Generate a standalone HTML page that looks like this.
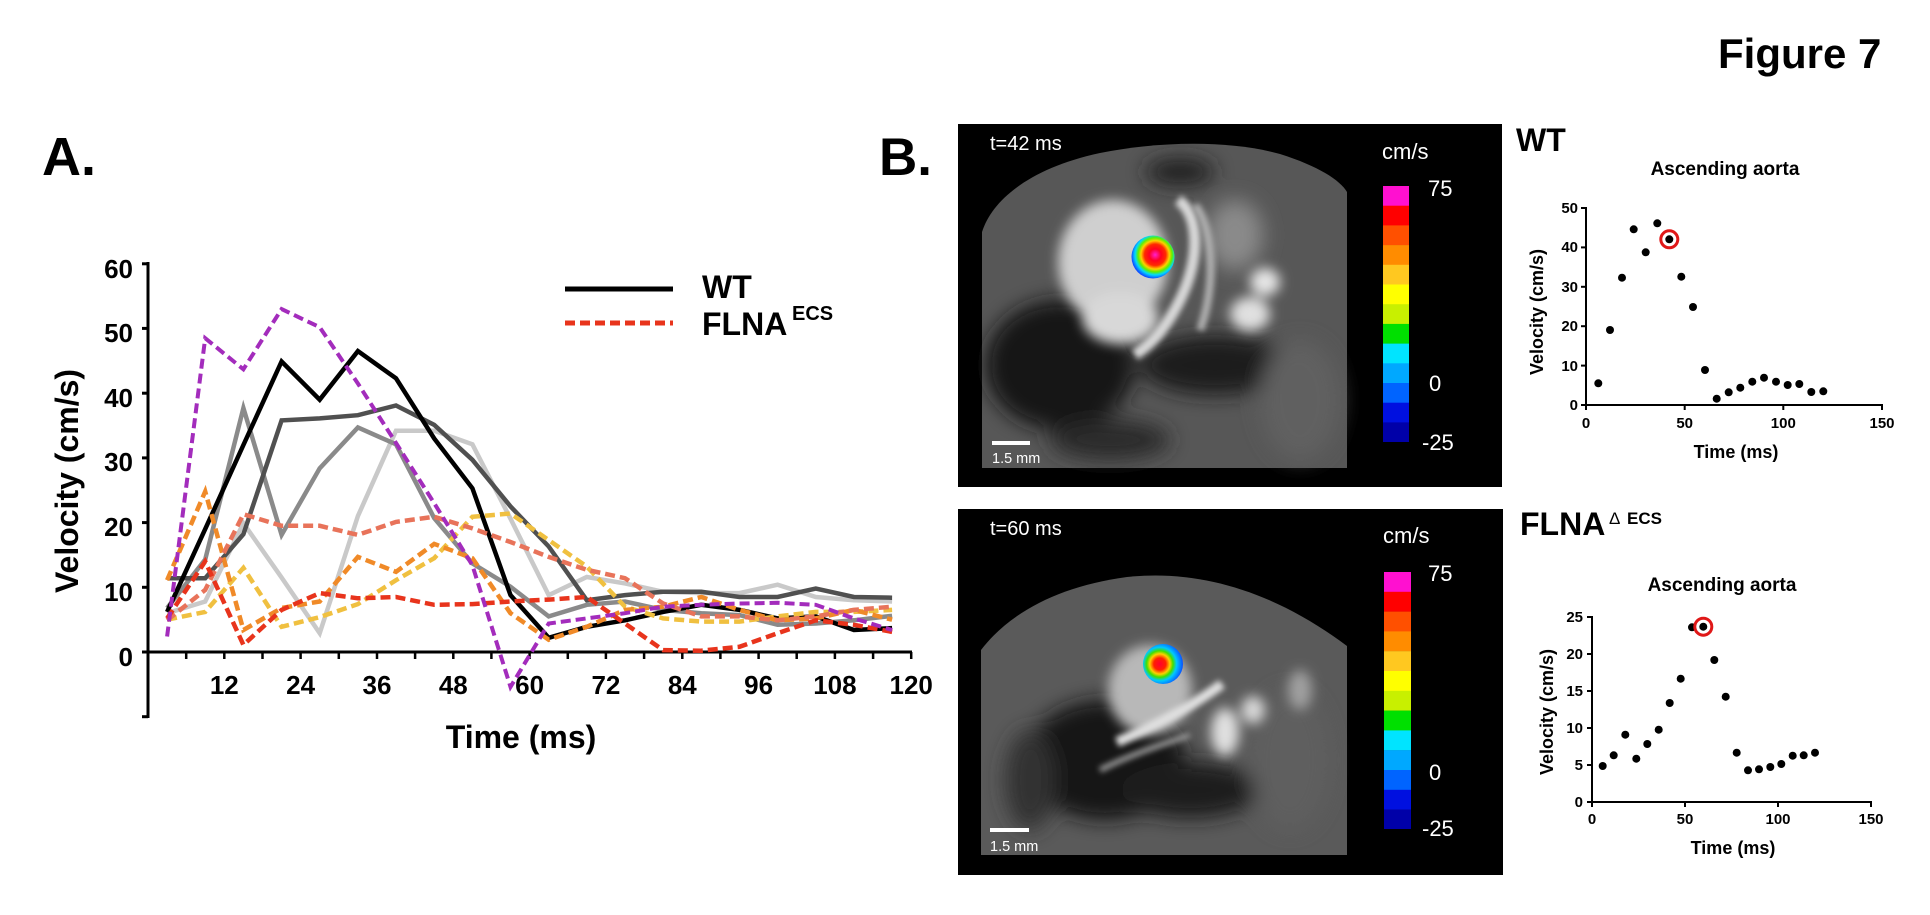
<!DOCTYPE html>
<html><head><meta charset="utf-8"><style>
html,body{margin:0;padding:0;background:#fff;}
svg{display:block;}
text{font-family:"Liberation Sans",Arial,sans-serif;}
</style></head><body>
<svg width="1930" height="915" viewBox="0 0 1930 915" xmlns="http://www.w3.org/2000/svg">
<defs>
<filter id="b6" x="-50%" y="-50%" width="200%" height="200%"><feGaussianBlur stdDeviation="6"/></filter>
<filter id="b3" x="-50%" y="-50%" width="200%" height="200%"><feGaussianBlur stdDeviation="3"/></filter>
<filter id="b10" x="-50%" y="-50%" width="200%" height="200%"><feGaussianBlur stdDeviation="10"/></filter>
<radialGradient id="flow1" cx="0.55" cy="0.45" r="0.55">
<stop offset="0" stop-color="#ff20d0"/><stop offset="0.25" stop-color="#ff0020"/><stop offset="0.45" stop-color="#ff2a00"/><stop offset="0.6" stop-color="#ffd000"/><stop offset="0.72" stop-color="#60f000"/><stop offset="0.85" stop-color="#00d8ff"/><stop offset="1" stop-color="#1050ff"/>
</radialGradient>
<radialGradient id="flow2" cx="0.42" cy="0.5" r="0.6">
<stop offset="0" stop-color="#ff0030"/><stop offset="0.25" stop-color="#ff2000"/><stop offset="0.42" stop-color="#ffd000"/><stop offset="0.55" stop-color="#40e000"/><stop offset="0.7" stop-color="#00c8ff"/><stop offset="1" stop-color="#0a40ff"/>
</radialGradient>
</defs>

<!-- Titles -->
<text x="1718" y="68" font-size="42" font-weight="bold">Figure 7</text>
<text x="42" y="175" font-size="54" font-weight="bold">A.</text>
<text x="879" y="175" font-size="53" font-weight="bold">B.</text>

<!-- Panel A axes -->
<g stroke="#000" stroke-width="3" fill="none">
<line x1="148" y1="262" x2="148" y2="718"/>
<line x1="142" y1="652" x2="912" y2="652"/>
<line x1="142" y1="263.8" x2="148" y2="263.8"/>
<line x1="142" y1="328.4" x2="148" y2="328.4"/>
<line x1="142" y1="393.2" x2="148" y2="393.2"/>
<line x1="142" y1="457.9" x2="148" y2="457.9"/>
<line x1="142" y1="522.6" x2="148" y2="522.6"/>
<line x1="142" y1="587.3" x2="148" y2="587.3"/>
<line x1="142" y1="716.7" x2="148" y2="716.7"/>
</g>
<g stroke="#000" stroke-width="2.5">
<line x1="186.2" y1="652" x2="186.2" y2="659"/><line x1="224.3" y1="652" x2="224.3" y2="659"/>
<line x1="262.5" y1="652" x2="262.5" y2="659"/><line x1="300.6" y1="652" x2="300.6" y2="659"/>
<line x1="338.8" y1="652" x2="338.8" y2="659"/><line x1="377" y1="652" x2="377" y2="659"/>
<line x1="415.1" y1="652" x2="415.1" y2="659"/><line x1="453.3" y1="652" x2="453.3" y2="659"/>
<line x1="491.4" y1="652" x2="491.4" y2="659"/><line x1="529.6" y1="652" x2="529.6" y2="659"/>
<line x1="567.8" y1="652" x2="567.8" y2="659"/><line x1="605.9" y1="652" x2="605.9" y2="659"/>
<line x1="644.1" y1="652" x2="644.1" y2="659"/><line x1="682.3" y1="652" x2="682.3" y2="659"/>
<line x1="720.4" y1="652" x2="720.4" y2="659"/><line x1="758.6" y1="652" x2="758.6" y2="659"/>
<line x1="796.7" y1="652" x2="796.7" y2="659"/><line x1="834.9" y1="652" x2="834.9" y2="659"/>
<line x1="873.1" y1="652" x2="873.1" y2="659"/><line x1="911.2" y1="652" x2="911.2" y2="659"/>
</g>
<g font-size="26" font-weight="bold" text-anchor="end">
<text x="133" y="278">60</text><text x="133" y="342">50</text><text x="133" y="407">40</text>
<text x="133" y="471">30</text><text x="133" y="536">20</text><text x="133" y="601">10</text>
<text x="133" y="666">0</text>
</g>
<g font-size="26" font-weight="bold" text-anchor="middle">
<text x="224.3" y="694">12</text><text x="300.6" y="694">24</text><text x="377" y="694">36</text>
<text x="453.3" y="694">48</text><text x="529.6" y="694">60</text><text x="605.9" y="694">72</text>
<text x="682.3" y="694">84</text><text x="758.6" y="694">96</text><text x="834.9" y="694">108</text>
<text x="911.2" y="694">120</text>
</g>
<text x="521" y="748" font-size="32" font-weight="bold" text-anchor="middle">Time (ms)</text>
<text transform="translate(78,481) rotate(-90)" font-size="32" font-weight="bold" text-anchor="middle">Velocity (cm/s)</text>

<!-- Legend -->
<line x1="565" y1="289" x2="673" y2="289" stroke="#000" stroke-width="5"/>
<line x1="565" y1="323" x2="673" y2="323" stroke="#e8341c" stroke-width="5" stroke-dasharray="10 5"/>
<text x="702" y="298" font-size="32" font-weight="bold">WT</text>
<text x="702" y="335" font-size="32" font-weight="bold">FLNA</text>
<text x="792" y="320" font-size="20" font-weight="bold">ECS</text>

<!-- Series -->
<g fill="none" stroke-width="4.5" stroke-linejoin="miter">
<polyline stroke="#c9c9c9" points="167.1,613.2 205.2,601.5 243.4,523.2 281.6,577.6 319.7,633.2 357.9,516.1 396,430.7 434.2,430.7 472.4,444.3 510.5,518.7 548.7,595.1 586.8,577 625,583.4 663.1,591.8 701.3,593.1 739.5,593.1 777.6,584.7 815.8,597 853.9,600.2 892.1,601.5"/>
<polyline stroke="#8a8a8a" points="167.1,608 205.2,559.5 243.4,408.1 281.6,534.9 319.7,468.3 357.9,427.5 396,444.3 434.2,518.1 472.4,563.4 510.5,586.7 548.7,616.4 586.8,604.8 625,601.5 663.1,609.9 701.3,613.2 739.5,615.1 777.6,624.8 815.8,623.5 853.9,620.3 892.1,615.8"/>
<polyline stroke="#505050" points="167.1,578.2 205.2,578.2 243.4,534.2 281.6,420.4 319.7,418.4 357.9,415.2 396,405.5 434.2,424.9 472.4,459.8 510.5,506.4 548.7,546.5 586.8,600.2 625,595.1 663.1,591.8 701.3,591.8 739.5,597 777.6,597 815.8,588.6 853.9,597 892.1,597.7"/>
<polyline stroke="#000" points="167.1,611.9 205.2,529.1 243.4,445 281.6,361.5 319.7,399.7 357.9,351.1 396,378.3 434.2,438.5 472.4,488.3 510.5,595.1 548.7,637.8 586.8,626.8 625,620.3 663.1,611.9 701.3,604.8 739.5,609.9 777.6,618.4 815.8,616.4 853.9,630 892.1,628.1"/>
</g>
<g fill="none" stroke-width="4.5" stroke-dasharray="10 5">
<polyline stroke="#f0c040" points="167.1,619.7 205.2,611.9 243.4,567.9 281.6,626.8 319.7,617.1 357.9,604.1 396,580.2 434.2,558.2 472.4,516.8 510.5,513.5 548.7,540.1 586.8,566.6 625,606.7 663.1,618.4 701.3,621.6 739.5,621.6 777.6,616.4 815.8,611.9 853.9,611.9 892.1,609.9"/>
<polyline stroke="#f08a28" points="167.1,580.2 205.2,491.5 243.4,630 281.6,608 319.7,601.5 357.9,556.9 396,571.8 434.2,543.9 472.4,558.2 510.5,613.2 548.7,639.7 586.8,626.8 625,609.9 663.1,606.7 701.3,597 739.5,609.9 777.6,620.3 815.8,618.4 853.9,609.9 892.1,619.7"/>
<polyline stroke="#e8735a" points="167.1,620.3 205.2,589.9 243.4,514.2 281.6,525.8 319.7,525.8 357.9,534.9 396,521.9 434.2,516.8 472.4,528.4 510.5,542 548.7,556.9 586.8,569.8 625,578.2 663.1,603.5 701.3,616.4 739.5,616.4 777.6,620.3 815.8,616.4 853.9,609.9 892.1,606.7"/>
<polyline stroke="#e8341c" points="167.1,618.4 205.2,561.4 243.4,644.9 281.6,609.9 319.7,593.1 357.9,598.3 396,597 434.2,604.8 472.4,604.1 510.5,601.5 548.7,599.6 586.8,597 625,623.5 663.1,650.1 701.3,650.7 739.5,646.8 777.6,633.2 815.8,620.3 853.9,624.8 892.1,631.9"/>
<polyline stroke="#a32cbc" stroke-width="4" points="167.1,636.5 205.2,338.2 243.4,369.3 281.6,309.1 319.7,327.2 357.9,383.5 396,443 434.2,503.2 472.4,565.3 510.5,686.9 548.7,623.5 586.8,618.4 625,613.2 663.1,606.7 701.3,604.8 739.5,603.5 777.6,602.8 815.8,604.8 853.9,618.4 892.1,630"/>
</g>

<!-- MRI top -->
<rect x="958" y="124" width="544" height="363" fill="#000"/>
<g>
<path d="M982,468 L982,232 C992,200 1030,168 1100,153 C1160,141 1230,140 1280,154 C1318,166 1340,180 1347,192 L1347,468 Z" fill="#575757"/>
<g filter="url(#b10)">
<ellipse cx="1060" cy="365" rx="75" ry="65" fill="#151515"/>
<ellipse cx="1215" cy="365" rx="75" ry="30" fill="#1e1e1e"/>
<ellipse cx="1180" cy="172" rx="35" ry="14" fill="#202020"/>
<ellipse cx="1110" cy="440" rx="60" ry="20" fill="#2a2a2a"/>
<ellipse cx="1300" cy="400" rx="40" ry="60" fill="#606060"/>
<ellipse cx="1235" cy="235" rx="28" ry="35" fill="#8a8a8a"/>
</g>
<g filter="url(#b6)">
<ellipse cx="1113" cy="262" rx="55" ry="62" fill="#cfcfcf"/>
<ellipse cx="1120" cy="318" rx="38" ry="26" fill="#d8d8d8"/>
<ellipse cx="1265" cy="282" rx="15" ry="14" fill="#e6e6e6"/>
<ellipse cx="1250" cy="314" rx="20" ry="17" fill="#e0e0e0"/>
</g>
<path d="M1178,200 C1200,215 1200,260 1180,300 C1165,330 1150,345 1135,355" stroke="#d8d8d8" stroke-width="11" fill="none" filter="url(#b3)"/>
<path d="M1195,205 C1215,230 1215,290 1200,330" stroke="#b0b0b0" stroke-width="8" fill="none" filter="url(#b3)"/>
<circle cx="1153" cy="257" r="21.5" fill="url(#flow1)"/>
</g>
<text x="990" y="150" font-size="20" fill="#fff">t=42 ms</text>
<text x="1382" y="159" font-size="22" fill="#fff">cm/s</text>
<g>
<rect x="1383" y="186" width="26" height="20" fill="#ff10d0"/>
<rect x="1383" y="205.7" width="26" height="20" fill="#ff0000"/>
<rect x="1383" y="225.4" width="26" height="20" fill="#ff5000"/>
<rect x="1383" y="245.1" width="26" height="20" fill="#ff8c00"/>
<rect x="1383" y="264.8" width="26" height="20" fill="#ffc820"/>
<rect x="1383" y="284.5" width="26" height="20" fill="#ffff00"/>
<rect x="1383" y="304.2" width="26" height="20" fill="#c8f000"/>
<rect x="1383" y="323.9" width="26" height="20" fill="#00e000"/>
<rect x="1383" y="343.6" width="26" height="20" fill="#00e4ff"/>
<rect x="1383" y="363.3" width="26" height="20" fill="#00a8ff"/>
<rect x="1383" y="383" width="26" height="20" fill="#0064ff"/>
<rect x="1383" y="402.7" width="26" height="20" fill="#0010e0"/>
<rect x="1383" y="422.4" width="26" height="19.6" fill="#0000a8"/>
</g>
<text x="1428" y="196" font-size="22" fill="#fff">75</text>
<text x="1429" y="391" font-size="22" fill="#fff">0</text>
<text x="1422" y="450" font-size="22" fill="#fff">-25</text>
<rect x="992" y="441" width="38" height="4" fill="#fff"/>
<text x="992" y="463" font-size="14.5" fill="#fff">1.5 mm</text>

<!-- MRI bottom -->
<rect x="958" y="509" width="545" height="366" fill="#000"/>
<g>
<path d="M981,855 L981,650 C1010,612 1060,586 1127,577 C1200,569 1275,592 1347,646 L1347,855 Z" fill="#5a5a5a"/>
<g filter="url(#b10)">
<ellipse cx="1105" cy="760" rx="80" ry="60" fill="#121212"/>
<ellipse cx="1190" cy="790" rx="70" ry="28" fill="#1a1a1a"/>
<ellipse cx="1030" cy="780" rx="25" ry="50" fill="#303030"/>
<ellipse cx="1290" cy="760" rx="40" ry="70" fill="#5e5e5e"/>
</g>
<g filter="url(#b6)">
<ellipse cx="1150" cy="690" rx="42" ry="45" fill="#b8b8b8"/>
<ellipse cx="1225" cy="732" rx="14" ry="24" fill="#e0e0e0"/>
<ellipse cx="1253" cy="710" rx="12" ry="14" fill="#d8d8d8"/>
<ellipse cx="1300" cy="690" rx="12" ry="20" fill="#a0a0a0"/>
</g>
<path d="M1117,742 C1150,728 1190,708 1222,684" stroke="#e0e0e0" stroke-width="10" fill="none" filter="url(#b3)"/>
<path d="M1100,770 C1130,755 1160,745 1190,735" stroke="#909090" stroke-width="6" fill="none" filter="url(#b3)"/>
<circle cx="1163" cy="664" r="20" fill="url(#flow2)"/>
</g>
<text x="990" y="535" font-size="20" fill="#fff">t=60 ms</text>
<text x="1383" y="543" font-size="22" fill="#fff">cm/s</text>
<g>
<rect x="1384" y="572" width="27" height="20" fill="#ff10d0"/>
<rect x="1384" y="591.8" width="27" height="20" fill="#ff0000"/>
<rect x="1384" y="611.6" width="27" height="20" fill="#ff5000"/>
<rect x="1384" y="631.4" width="27" height="20" fill="#ff8c00"/>
<rect x="1384" y="651.2" width="27" height="20" fill="#ffc820"/>
<rect x="1384" y="671" width="27" height="20" fill="#ffff00"/>
<rect x="1384" y="690.8" width="27" height="20" fill="#c8f000"/>
<rect x="1384" y="710.6" width="27" height="20" fill="#00e000"/>
<rect x="1384" y="730.4" width="27" height="20" fill="#00e4ff"/>
<rect x="1384" y="750.2" width="27" height="20" fill="#00a8ff"/>
<rect x="1384" y="770" width="27" height="20" fill="#0064ff"/>
<rect x="1384" y="789.8" width="27" height="20" fill="#0010e0"/>
<rect x="1384" y="809.6" width="27" height="19.4" fill="#0000a8"/>
</g>
<text x="1428" y="581" font-size="22" fill="#fff">75</text>
<text x="1429" y="780" font-size="22" fill="#fff">0</text>
<text x="1422" y="836" font-size="22" fill="#fff">-25</text>
<rect x="990" y="828" width="39" height="4" fill="#fff"/>
<text x="990" y="851" font-size="14.5" fill="#fff">1.5 mm</text>

<!-- WT scatter -->
<text x="1516" y="151" font-size="32" font-weight="bold">WT</text>
<text x="1725" y="175" font-size="19" font-weight="bold" text-anchor="middle">Ascending aorta</text>
<g stroke="#000" stroke-width="2" fill="none">
<line x1="1586" y1="207" x2="1586" y2="406"/>
<line x1="1585" y1="405" x2="1883" y2="405"/>
<line x1="1581" y1="405" x2="1586" y2="405"/><line x1="1581" y1="365.6" x2="1586" y2="365.6"/>
<line x1="1581" y1="326.2" x2="1586" y2="326.2"/><line x1="1581" y1="286.8" x2="1586" y2="286.8"/>
<line x1="1581" y1="247.4" x2="1586" y2="247.4"/><line x1="1581" y1="208" x2="1586" y2="208"/>
<line x1="1586" y1="405" x2="1586" y2="410"/><line x1="1684.7" y1="405" x2="1684.7" y2="410"/>
<line x1="1783.3" y1="405" x2="1783.3" y2="410"/><line x1="1882" y1="405" x2="1882" y2="410"/>
</g>
<g font-size="15" font-weight="bold" text-anchor="end">
<text x="1578" y="410">0</text><text x="1578" y="371">10</text><text x="1578" y="331">20</text>
<text x="1578" y="292">30</text><text x="1578" y="252">40</text><text x="1578" y="213">50</text>
</g>
<g font-size="15" font-weight="bold" text-anchor="middle">
<text x="1586" y="428">0</text><text x="1684.7" y="428">50</text><text x="1783.3" y="428">100</text><text x="1882" y="428">150</text>
</g>
<text x="1736" y="458" font-size="18" font-weight="bold" text-anchor="middle">Time (ms)</text>
<text transform="translate(1543,312) rotate(-90)" font-size="18" font-weight="bold" text-anchor="middle">Velocity (cm/s)</text>
<g fill="#000">
<circle cx="1598.3" cy="383.3" r="4"/><circle cx="1610" cy="330" r="4"/><circle cx="1622" cy="277.7" r="4"/>
<circle cx="1633.7" cy="229.3" r="4"/><circle cx="1645.7" cy="252.3" r="4"/><circle cx="1657.3" cy="223.3" r="4"/>
<circle cx="1669.3" cy="239.3" r="4"/><circle cx="1681.3" cy="276.7" r="4"/><circle cx="1693" cy="307" r="4"/>
<circle cx="1705" cy="370" r="4"/><circle cx="1716.7" cy="398.7" r="4"/><circle cx="1728.7" cy="392.3" r="4"/>
<circle cx="1740.3" cy="387.7" r="4"/><circle cx="1752.3" cy="381.7" r="4"/><circle cx="1764" cy="377.7" r="4"/>
<circle cx="1776" cy="381.7" r="4"/><circle cx="1787.7" cy="385" r="4"/><circle cx="1799.3" cy="384" r="4"/>
<circle cx="1811.3" cy="392" r="4"/><circle cx="1823.3" cy="391.3" r="4"/>
</g>
<circle cx="1669.3" cy="239.3" r="8.5" fill="none" stroke="#e01818" stroke-width="3"/>

<!-- FLNA scatter -->
<text x="1520" y="535" font-size="32" font-weight="bold">FLNA</text>
<text x="1609" y="524" font-size="17">Δ</text>
<text x="1627" y="524" font-size="17" font-weight="bold">ECS</text>
<text x="1722" y="591" font-size="19" font-weight="bold" text-anchor="middle">Ascending aorta</text>
<g stroke="#000" stroke-width="2" fill="none">
<line x1="1592" y1="616" x2="1592" y2="803"/>
<line x1="1591" y1="802" x2="1872" y2="802"/>
<line x1="1587" y1="802" x2="1592" y2="802"/><line x1="1587" y1="765" x2="1592" y2="765"/>
<line x1="1587" y1="728" x2="1592" y2="728"/><line x1="1587" y1="691" x2="1592" y2="691"/>
<line x1="1587" y1="654" x2="1592" y2="654"/><line x1="1587" y1="617" x2="1592" y2="617"/>
<line x1="1592" y1="802" x2="1592" y2="807"/><line x1="1685" y1="802" x2="1685" y2="807"/>
<line x1="1778" y1="802" x2="1778" y2="807"/><line x1="1871" y1="802" x2="1871" y2="807"/>
</g>
<g font-size="15" font-weight="bold" text-anchor="end">
<text x="1583" y="807">0</text><text x="1583" y="770">5</text><text x="1583" y="733">10</text>
<text x="1583" y="696">15</text><text x="1583" y="659">20</text><text x="1583" y="622">25</text>
</g>
<g font-size="15" font-weight="bold" text-anchor="middle">
<text x="1592" y="824">0</text><text x="1685" y="824">50</text><text x="1778" y="824">100</text><text x="1871" y="824">150</text>
</g>
<text x="1733" y="854" font-size="18" font-weight="bold" text-anchor="middle">Time (ms)</text>
<text transform="translate(1553,712) rotate(-90)" font-size="18" font-weight="bold" text-anchor="middle">Velocity (cm/s)</text>
<g fill="#000">
<circle cx="1602.7" cy="766" r="4"/><circle cx="1613.7" cy="755.3" r="4"/><circle cx="1625.3" cy="734.7" r="4"/>
<circle cx="1636.3" cy="758.7" r="4"/><circle cx="1647.3" cy="744" r="4"/><circle cx="1658.7" cy="729.7" r="4"/>
<circle cx="1669.7" cy="703" r="4"/><circle cx="1680.7" cy="678.7" r="4"/><circle cx="1692" cy="627.3" r="4"/>
<circle cx="1703.3" cy="626.7" r="4"/><circle cx="1714.3" cy="660" r="4"/><circle cx="1725.7" cy="696.7" r="4"/>
<circle cx="1736.7" cy="752.7" r="4"/><circle cx="1748" cy="770.3" r="4"/><circle cx="1759" cy="769.3" r="4"/>
<circle cx="1770.3" cy="767" r="4"/><circle cx="1781.3" cy="764" r="4"/><circle cx="1792.7" cy="755.7" r="4"/>
<circle cx="1803.7" cy="755.3" r="4"/><circle cx="1815" cy="752.7" r="4"/>
</g>
<circle cx="1703.3" cy="626.7" r="8.5" fill="none" stroke="#e01818" stroke-width="3"/>
</svg>
</body></html>
